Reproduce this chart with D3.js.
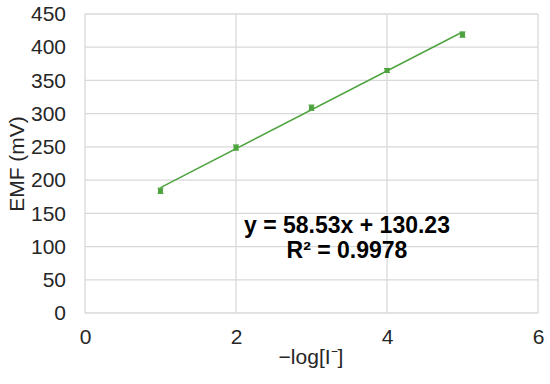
<!DOCTYPE html>
<html><head><meta charset="utf-8">
<script src="https://cdn.jsdelivr.net/npm/d3@7"></script>
<style>body{margin:0;background:#fff}svg{display:block}</style>
</head><body>
<svg id="c" width="550" height="384"></svg>
<script>
const xValues = [1, 2, 3, 4, 5];
const emfValues = [184, 249, 309, 365, 419];
const errValues = [4, 4, 4, 3, 4];
const xTicks = [0, 2, 4, 6];
const yTicks = [0, 50, 100, 150, 200, 250, 300, 350, 400, 450];
const slope = 58.53, intercept = 130.23;
const eqLines = ["y = 58.53x + 130.23", "R\u00b2 = 0.9978"];

const svg = d3.select("#c");
const x = d3.scaleLinear().domain([0, 6]).range([85, 538]);
const y = d3.scaleLinear().domain([0, 450]).range([313, 14]);
const green = "#4ea33f";
const font = "'Liberation Sans', Arial, sans-serif";

// gridlines
svg.append("g").selectAll("line").data(yTicks).join("line")
  .attr("x1", x(0)).attr("x2", x(6)).attr("y1", d => y(d)).attr("y2", d => y(d))
  .attr("stroke", "#d9d9d9").attr("stroke-width", 1.3);
svg.append("g").selectAll("line").data(xTicks).join("line")
  .attr("y1", y(0)).attr("y2", y(450)).attr("x1", d => x(d)).attr("x2", d => x(d))
  .attr("stroke", "#d9d9d9").attr("stroke-width", 1.3);

// axes labels
const yAxis = d3.axisLeft(y).tickValues(yTicks).tickSize(0).tickPadding(19).tickFormat(d3.format("d"));
const gy = svg.append("g").attr("transform", `translate(${x(0)},0)`).call(yAxis);
gy.select(".domain").remove();
gy.selectAll("text").attr("font-family", font).attr("font-size", 21).attr("fill", "#262626");

const xAxis = d3.axisBottom(x).tickValues(xTicks).tickSize(0).tickPadding(16).tickFormat(d3.format("d"));
const gx = svg.append("g").attr("transform", `translate(0,${y(0)})`).call(xAxis);
gx.select(".domain").remove();
gx.selectAll("text").attr("font-family", font).attr("font-size", 21).attr("fill", "#262626");

// trendline
svg.append("line")
  .attr("x1", x(xValues[0])).attr("y1", y(slope * xValues[0] + intercept))
  .attr("x2", x(xValues[4])).attr("y2", y(slope * xValues[4] + intercept))
  .attr("stroke", green).attr("stroke-width", 1.5);

// error bars
const pts = xValues.map((v, i) => ({x: v, y: emfValues[i], e: errValues[i]}));
const eb = svg.append("g").attr("stroke", green).attr("stroke-width", 1);
eb.selectAll("line.v").data(pts).join("line").attr("class", "v")
  .attr("x1", d => x(d.x)).attr("x2", d => x(d.x))
  .attr("y1", d => y(d.y - d.e)).attr("y2", d => y(d.y + d.e));
eb.selectAll("line.t").data(pts).join("line").attr("class", "t")
  .attr("x1", d => x(d.x) - 3).attr("x2", d => x(d.x) + 3)
  .attr("y1", d => y(d.y + d.e)).attr("y2", d => y(d.y + d.e));
eb.selectAll("line.b").data(pts).join("line").attr("class", "b")
  .attr("x1", d => x(d.x) - 3).attr("x2", d => x(d.x) + 3)
  .attr("y1", d => y(d.y - d.e)).attr("y2", d => y(d.y - d.e));

// markers
svg.append("g").selectAll("rect").data(pts).join("rect")
  .attr("x", d => x(d.x) - 2.5).attr("y", d => y(d.y) - 2.5)
  .attr("width", 5).attr("height", 5).attr("fill", green);

// axis titles
svg.append("text").attr("transform", "translate(24,164) rotate(-90)")
  .attr("text-anchor", "middle").attr("font-family", font).attr("font-size", 21)
  .attr("fill", "#262626").text("EMF (mV)");
svg.append("text").attr("x", 311).attr("y", 364)
  .attr("text-anchor", "middle").attr("font-family", font).attr("font-size", 21)
  .attr("fill", "#262626").text("\u2212log[I\u207b]");

// equation
svg.append("g").selectAll("text").data(eqLines).join("text")
  .attr("x", 347).attr("y", (d, i) => 233 + i * 25)
  .attr("text-anchor", "middle").attr("font-family", font).attr("font-size", 23)
  .attr("font-weight", "bold").attr("fill", "#000").text(d => d);
</script>
</body></html>
